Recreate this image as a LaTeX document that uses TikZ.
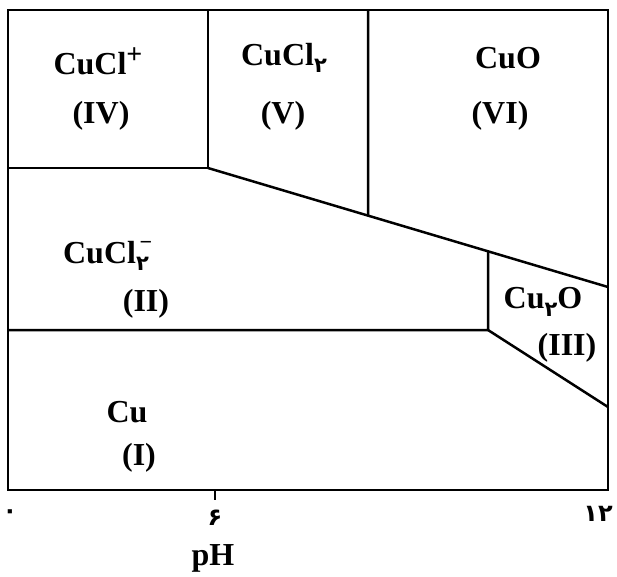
\documentclass[tikz,border=0pt]{standalone}
\usepackage{fontspec}
\setmainfont{Liberation Serif}
\newfontfamily\fa[Script=Arabic]{DejaVu Sans}
\usetikzlibrary{calc}
\newcommand{\fasub}[1]{\raisebox{-0.5ex}{\fontsize{21}{21}\selectfont\fa\bfseries #1}}
\begin{document}
\begin{tikzpicture}[x=1pt,y=-1pt,
  region/.style={font=\fontsize{32}{33}\selectfont\bfseries, inner sep=0pt},
  axislbl/.style={font=\fontsize{24}{24}\selectfont\fa\bfseries, inner sep=0pt},
  frameline/.style={line width=2.8pt},
  bound/.style={line width=2.5pt}]
\useasboundingbox (0,0) rectangle (617,576);
% frame corners
\coordinate (TL) at (8,10);
\coordinate (TR) at (608,10);
\coordinate (BR) at (608,490);
\coordinate (BL) at (8,490);
% boundary points
\coordinate (A) at (208,10);
\coordinate (B) at (208,168);
\coordinate (L1) at (8,168);
\coordinate (C) at (368,10);
\coordinate (F) at (608,287);
\coordinate (D) at ($(B)!0.4!(F)$);
\coordinate (E) at ($(B)!0.7!(F)$);
\coordinate (G) at (488,330);
\coordinate (L2) at (8,330);
\coordinate (H) at (608,407);
\coordinate (T1) at (215,490);
\coordinate (T2) at (215,500);
% frame
\draw[frameline] (TL) rectangle (BR);
% boundaries
\draw[bound] (A) -- (B) -- (L1);
\draw[bound] (B) -- (F);
\draw[bound] (C) -- (D);
\draw[bound] (E) -- (G) -- (L2);
\draw[bound] (G) -- (H);
\draw[line width=2pt] (T1) -- (T2);
% region labels
\node[region] (n4) at (98,61) {CuCl\raisebox{0.75ex}{\fontsize{28}{28}\selectfont +}};
\node[region] (r4) at (101,116) {(IV)};
\node[region] (n5) at (284,58) {CuCl\fasub{۲}};
\node[region] (r5) at (283,116) {(V)};
\node[region] (n6) at (508,58) {CuO};
\node[region] (r6) at (500,116) {(VI)};
\node[region] (n2) at (106,256) {CuCl\rlap{\raisebox{0.95ex}{\fontsize{22}{22}\selectfont\,\textminus}}\fasub{۲}};
\node[region] (r2) at (146,304) {(II)};
\node[region] (n3) at (543,302) {Cu\fasub{۲}O};
\node[region] (r3) at (567,348) {(III)};
\node[region] (n1) at (127,412) {Cu};
\node[region] (r1) at (139,458) {(I)};
% axis labels
\node[axislbl] (x0) at (10,514) {۰};
\node[axislbl] (x6) at (215,518) {۶};
\node[axislbl] (x12) at (598,514) {۱۲};
\node[region] (ph) at (213,558) {pH};
\end{tikzpicture}
\end{document}
